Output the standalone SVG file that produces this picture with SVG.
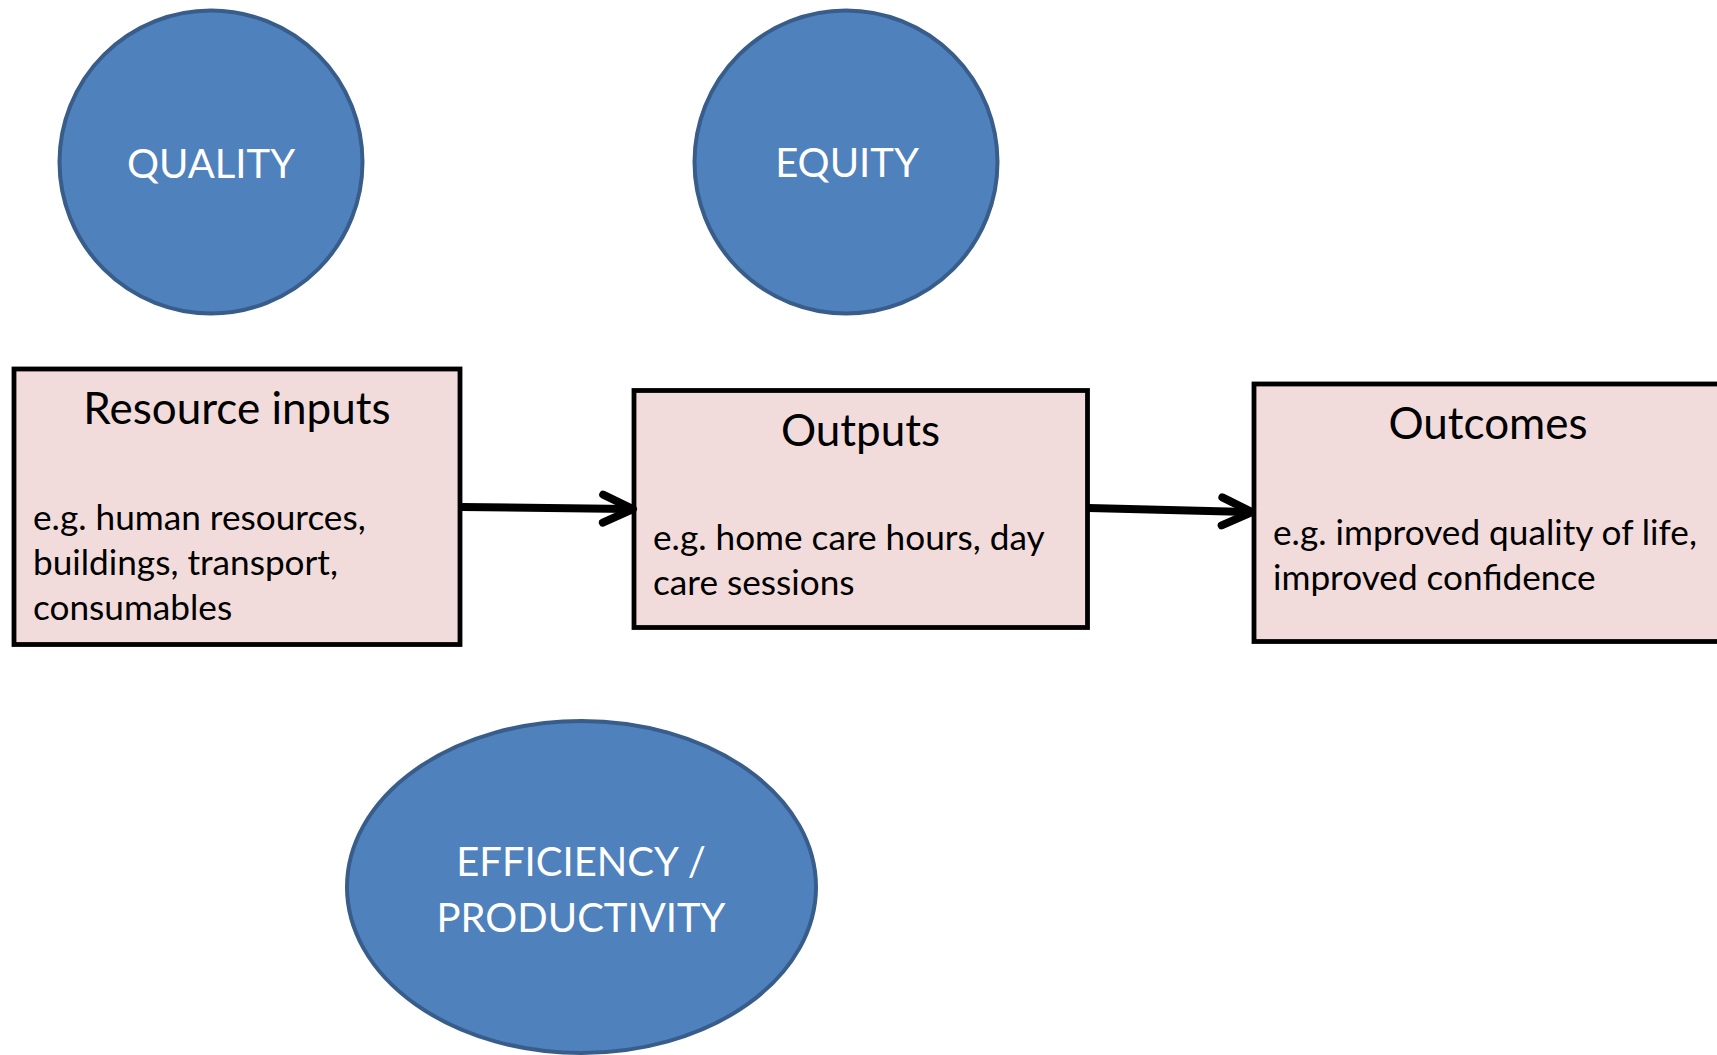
<svg xmlns="http://www.w3.org/2000/svg" width="1717" height="1055" viewBox="0 0 1717 1055">
  <style>
    .dim { fill: #4f81bd; stroke: #385d8a; stroke-width: 4; }
    .dim-label { font-family: Lato, "Liberation Sans", sans-serif; font-size: 40px; fill: #ffffff; text-anchor: middle; }
    .stage { fill: #f2dcdb; stroke: #000000; stroke-width: 4.8; }
    .stage-title { font-family: Lato, "Liberation Sans", sans-serif; font-size: 44px; fill: #000000; text-anchor: middle; }
    .stage-body { font-family: Lato, "Liberation Sans", sans-serif; font-size: 35.2px; fill: #000000; }
    .flow { fill: none; stroke: #000000; stroke-width: 8; }
  </style>
  <defs>
    <marker id="chevron" markerUnits="userSpaceOnUse" viewBox="-40 -20 48 40" markerWidth="48" markerHeight="40" refX="-4" refY="0" orient="auto" overflow="visible">
      <path d="M-30,-14 L0,0 L-30,14" fill="none" stroke="#000000" stroke-width="8" stroke-linecap="round" stroke-linejoin="round"/>
    </marker>
  </defs>

  <rect width="1717" height="1055" fill="#ffffff"/>

  <!-- dimensions of performance -->
  <g id="quality">
    <circle class="dim" cx="211" cy="162" r="151.5"/>
    <text class="dim-label" x="211" y="178">QUALITY</text>
  </g>
  <g id="equity">
    <circle class="dim" cx="846" cy="162" r="151.5"/>
    <text class="dim-label" x="847" y="177">EQUITY</text>
  </g>
  <g id="efficiency">
    <ellipse class="dim" cx="581.5" cy="887" rx="234.5" ry="166"/>
    <text class="dim-label" x="581" y="876">EFFICIENCY /</text>
    <text class="dim-label" x="581" y="932">PRODUCTIVITY</text>
  </g>

  <!-- production chain -->
  <g id="resource-inputs">
    <rect class="stage" x="14" y="369" width="446" height="275.5"/>
    <text class="stage-title" x="237" y="424">Resource inputs</text>
    <text class="stage-body" x="33" y="530">e.g. human resources,</text>
    <text class="stage-body" x="33" y="575">buildings, transport,</text>
    <text class="stage-body" x="33" y="620">consumables</text>
  </g>
  <g id="outputs">
    <rect class="stage" x="634" y="390.5" width="453.5" height="237"/>
    <text class="stage-title" x="860.5" y="446">Outputs</text>
    <text class="stage-body" x="653" y="550">e.g. home care hours, day</text>
    <text class="stage-body" x="653" y="595">care sessions</text>
  </g>
  <g id="outcomes">
    <rect class="stage" x="1254" y="384" width="470" height="257.5"/>
    <text class="stage-title" x="1488" y="439">Outcomes</text>
    <text class="stage-body" x="1273" y="545">e.g. improved quality of life,</text>
    <text class="stage-body" x="1273" y="590">improved confidence</text>
  </g>

  <!-- connectors -->
  <g id="connectors">
    <line class="flow" x1="462" y1="507" x2="629" y2="509" marker-end="url(#chevron)"/>
    <line class="flow" x1="1089" y1="508" x2="1248" y2="512" marker-end="url(#chevron)"/>
  </g>
</svg>
